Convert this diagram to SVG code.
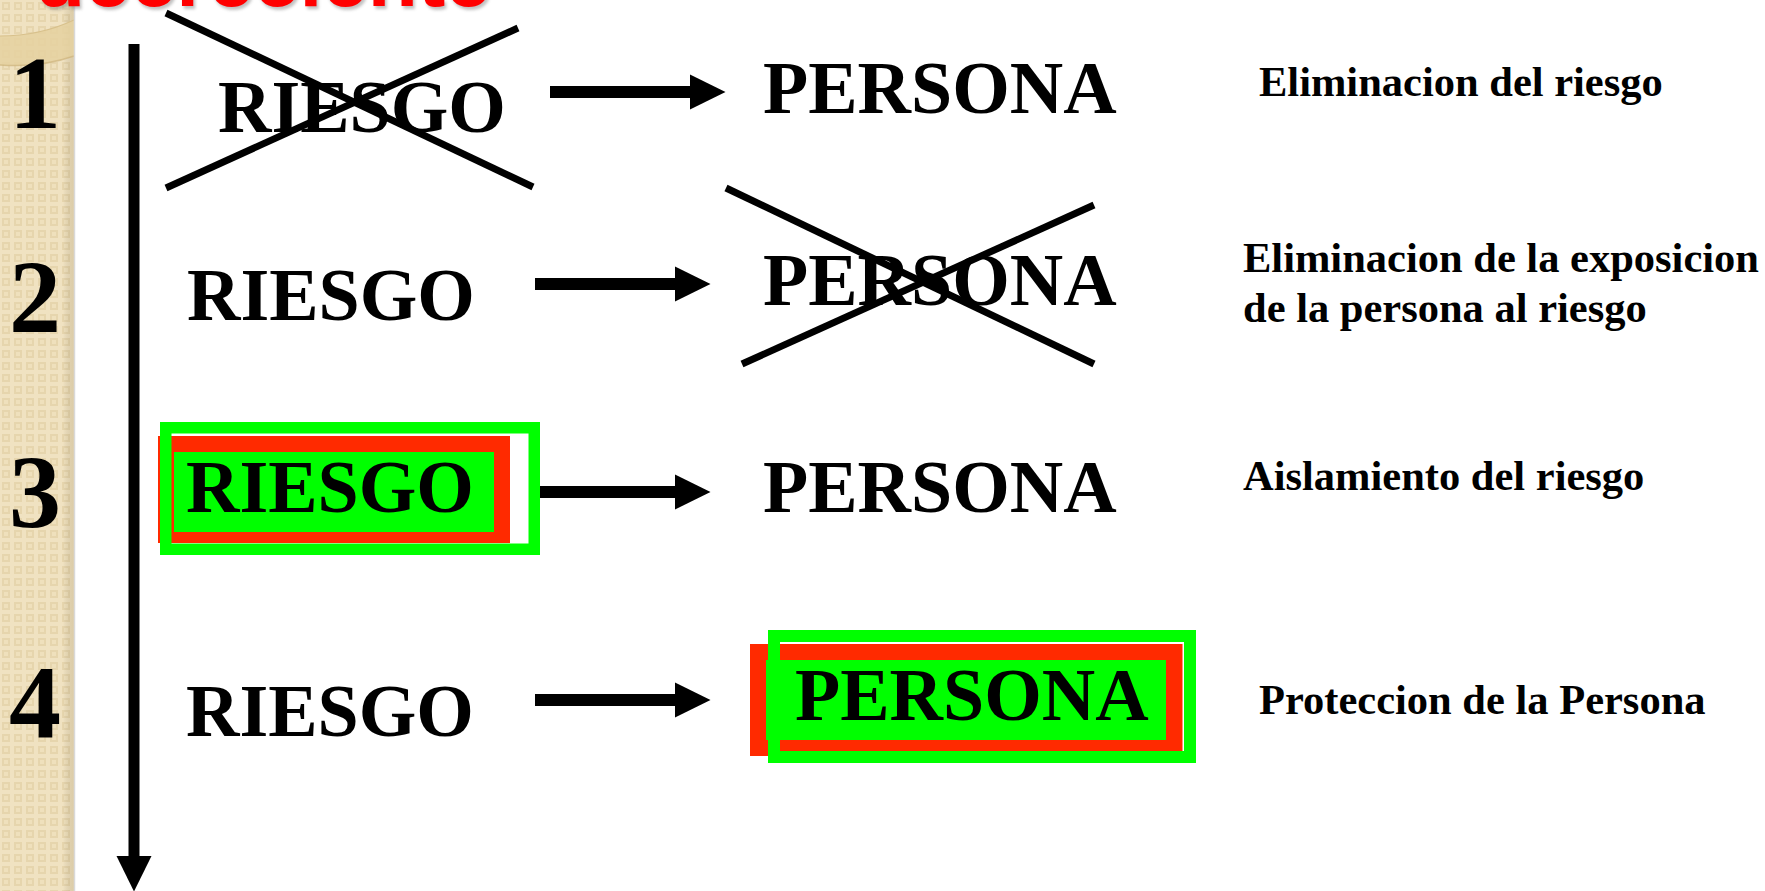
<svg xmlns="http://www.w3.org/2000/svg" width="1765" height="891" viewBox="0 0 1765 891">
  <defs>
    <pattern id="weave" x="0" y="0" width="12" height="12" patternUnits="userSpaceOnUse">
      <rect width="12" height="12" fill="#F0E2C1"/>
      <rect x="2" y="2" width="8" height="8" fill="#E6D5AD"/>
      <rect x="4" y="4" width="4" height="4" fill="#EFE0BC"/>
    </pattern>
    <linearGradient id="stripShade" x1="0" y1="0" x2="1" y2="0">
      <stop offset="0" stop-color="#000" stop-opacity="0"/>
      <stop offset="0.85" stop-color="#000" stop-opacity="0"/>
      <stop offset="1" stop-color="#8a6d2e" stop-opacity="0.18"/>
    </linearGradient>
    <filter id="shadow" x="-5%" y="-50%" width="110%" height="200%">
      <feGaussianBlur stdDeviation="1.5"/>
    </filter>
    <marker id="head" markerUnits="userSpaceOnUse" markerWidth="36" markerHeight="36" refX="0" refY="17.5" orient="auto" overflow="visible">
      <path d="M0,0 L35.5,17.5 L0,35 Z" fill="#000"/>
    </marker>
    <style>
      .big { font-family: "Liberation Serif", "Times New Roman", serif; font-weight: bold; font-size: 74px; fill: #000; }
      .num { font-family: "Liberation Serif", "Times New Roman", serif; font-weight: bold; font-size: 104px; fill: #000; text-anchor: middle; }
      .desc { font-family: "Liberation Serif", "Times New Roman", serif; font-weight: bold; font-size: 42.5px; fill: #000; }
      .title { font-family: "Liberation Sans", Arial, sans-serif; font-weight: bold; font-size: 82px; }
      .arrow { stroke: #000; stroke-width: 12; fill: none; marker-end: url(#head); }
      .cross { stroke: #000; stroke-width: 7; fill: none; }
      .red { fill: #FF2A00; }
      .green { fill: #00FF00; }
      .frame { fill: none; stroke: #00FF00; }
    </style>
  </defs>

  <rect width="1765" height="891" fill="#FFFFFF"/>

  <!-- left decorative strip -->
  <g id="strip">
    <rect x="0" y="0" width="74" height="891" fill="url(#weave)"/>
    <rect x="0" y="0" width="74" height="891" fill="url(#stripShade)"/>
    <path d="M0,36 Q40,36 74,20 L74,56 Q40,68 0,65 Z" fill="#E5D1A0" opacity="0.85"/>
    <path d="M0,36 Q40,36 74,20" fill="none" stroke="#D8C18C" stroke-width="1.2"/>
    <path d="M0,65 Q40,68 74,56" fill="none" stroke="#CDB47C" stroke-width="1.5" opacity="0.7"/>
    <line x1="74.5" y1="0" x2="74.5" y2="891" stroke="#D9D9D9" stroke-width="1.5"/>
  </g>

  <!-- partially visible title -->
  <g id="title">
    <text class="title" x="37" y="9" fill="#777" opacity="0.45" filter="url(#shadow)">decreciente</text>
    <text class="title" x="35" y="6" fill="#FF0000">decreciente</text>
  </g>

  <!-- numbers -->
  <g id="num1"><text class="num" x="35" y="128">1</text></g>
  <g id="num2"><text class="num" x="35" y="332">2</text></g>
  <g id="num3"><text class="num" x="35" y="527">3</text></g>
  <g id="num4"><text class="num" x="35" y="737">4</text></g>

  <!-- connectors -->
  <g id="connectors">
    <line class="arrow" x1="134" y1="44" x2="134" y2="856" style="stroke-width:11"/>
    <line class="arrow" x1="550" y1="92" x2="690" y2="92"/>
    <line class="arrow" x1="535" y1="284" x2="675" y2="284"/>
    <line class="arrow" x1="535" y1="492" x2="675" y2="492"/>
    <line class="arrow" x1="535" y1="700" x2="675" y2="700"/>
  </g>

  <!-- row 1 -->
  <g id="riesgo1">
    <text class="big" x="218" y="132">RIESGO</text>
    <line class="cross" x1="166" y1="13" x2="533" y2="187"/>
    <line class="cross" x1="518" y1="28" x2="166" y2="188"/>
  </g>
  <g id="persona1"><text class="big" x="763" y="113">PERSONA</text></g>
  <g id="desc1"><text class="desc" x="1259" y="96">Eliminacion del riesgo</text></g>

  <!-- row 2 -->
  <g id="riesgo2"><text class="big" x="187" y="320">RIESGO</text></g>
  <g id="persona2">
    <text class="big" x="763" y="305">PERSONA</text>
    <line class="cross" x1="726" y1="188" x2="1094" y2="364"/>
    <line class="cross" x1="1094" y1="205" x2="742" y2="364"/>
  </g>
  <g id="desc2">
    <text class="desc" x="1243" y="272">Eliminacion de la exposicion</text>
    <text class="desc" x="1243" y="322">de la persona al riesgo</text>
  </g>

  <!-- row 3 -->
  <g id="riesgo3">
    <rect class="red" x="158" y="436" width="352" height="107"/>
    <rect class="green" x="174" y="452" width="320" height="80"/>
    <rect class="frame" x="165.75" y="427.75" width="368.5" height="121.5" stroke-width="11.5"/>
    <text class="big" x="186" y="512">RIESGO</text>
  </g>
  <g id="persona3"><text class="big" x="763" y="512">PERSONA</text></g>
  <g id="desc3"><text class="desc" x="1243" y="490">Aislamiento del riesgo</text></g>

  <!-- row 4 -->
  <g id="riesgo4"><text class="big" x="186" y="736">RIESGO</text></g>
  <g id="persona4">
    <rect class="red" x="750" y="644" width="432.5" height="112"/>
    <rect class="green" x="766" y="660" width="400" height="80"/>
    <rect class="frame" x="774" y="636" width="416" height="121" stroke-width="12"/>
    <text class="big" x="795" y="720">PERSONA</text>
  </g>
  <g id="desc4"><text class="desc" x="1259" y="714">Proteccion de la Persona</text></g>
</svg>
